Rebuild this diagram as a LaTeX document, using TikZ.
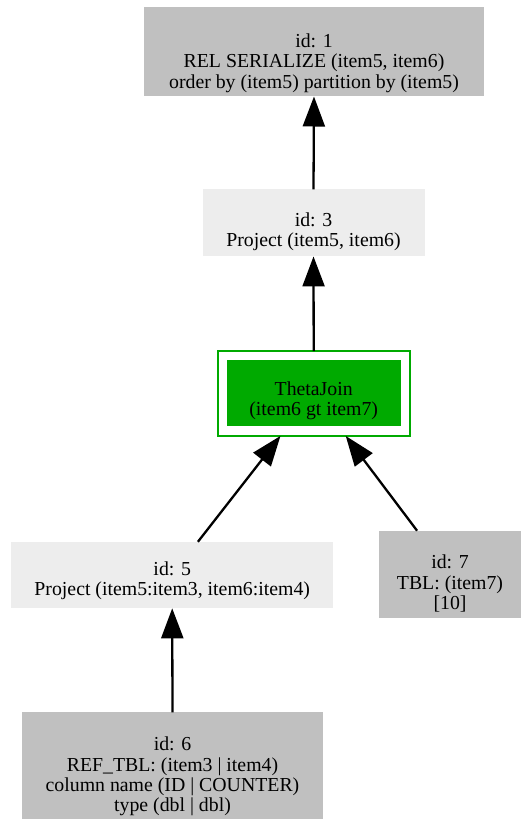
\documentclass[tikz,border=0pt]{standalone}
\usepackage{fontspec}
\setmainfont{Liberation Serif}
\usetikzlibrary{arrows.meta}

\definecolor{opgray}{HTML}{C0C0C0}
\definecolor{oplight}{HTML}{EDEDED}
\definecolor{opgreen}{HTML}{00AA00}

\tikzset{
  opbox/.style={draw=none, inner sep=0pt, outer sep=0pt, rectangle},
  optext/.style={inner sep=0pt, align=center,
    font=\fontsize{19.8}{20.3}\selectfont},
  flow/.style={line width=2.3pt, -{Triangle[length=30pt,width=22pt]}, shorten >=0.5pt}
}

\begin{document}
\begin{tikzpicture}[x=1pt,y=-1pt]
\useasboundingbox (0,0) rectangle (523,819);
\clip (0,0) rectangle (523,819);

% operator boxes
\node[opbox, fill=opgray, minimum width=340pt, minimum height=89pt] (n1) at (314,51.5) {};
\node[optext] (n1t) at (314,63) {id: 1\\REL SERIALIZE (item5, item6)\\order by (item5) partition by (item5)};

\node[opbox, fill=oplight, minimum width=222pt, minimum height=66.5pt] (n3) at (313.5,222.7) {};
\node[optext] (n3t) at (313.5,232) {id: 3\\Project (item5, item6)};

\node[opbox, draw=opgreen, line width=2pt, minimum width=192pt, minimum height=84.5pt] (tj) at (313.7,393.3) {};
\node[opbox, fill=opgreen, minimum width=174pt, minimum height=66pt] (tjin) at (313.7,393) {};
\node[optext] (tjt) at (313.7,401) {ThetaJoin\\(item6 gt item7)};

\node[opbox, fill=oplight, minimum width=322pt, minimum height=66pt] (n5) at (172.2,574.8) {};
\node[optext] (n5t) at (172.2,581) {id: 5\\Project (item5:item3, item6:item4)};

\node[opbox, fill=opgray, minimum width=142pt, minimum height=87.6pt] (n7) at (450,574.5) {};
\node[optext] (n7t) at (450,583.5) {id: 7\\TBL: (item7)\\{[10]}};

\node[opbox, fill=opgray, minimum width=301pt, minimum height=110pt] (n6) at (172.5,767.3) {};
\node[optext] (n6t) at (172.5,776.5) {id: 6\\REF\_TBL: (item3 | item4)\\column name (ID | COUNTER)\\type (dbl | dbl)};

% data flow
\draw[flow] (n3.north) -- (n1.south);
\draw[flow] (tj.north) -- (n3.south);
\draw[flow] (n5) -- (tj);
\draw[flow] (n7) -- (tj);
\draw[flow] (n6.north) -- (n5.south);
\end{tikzpicture}
\end{document}
